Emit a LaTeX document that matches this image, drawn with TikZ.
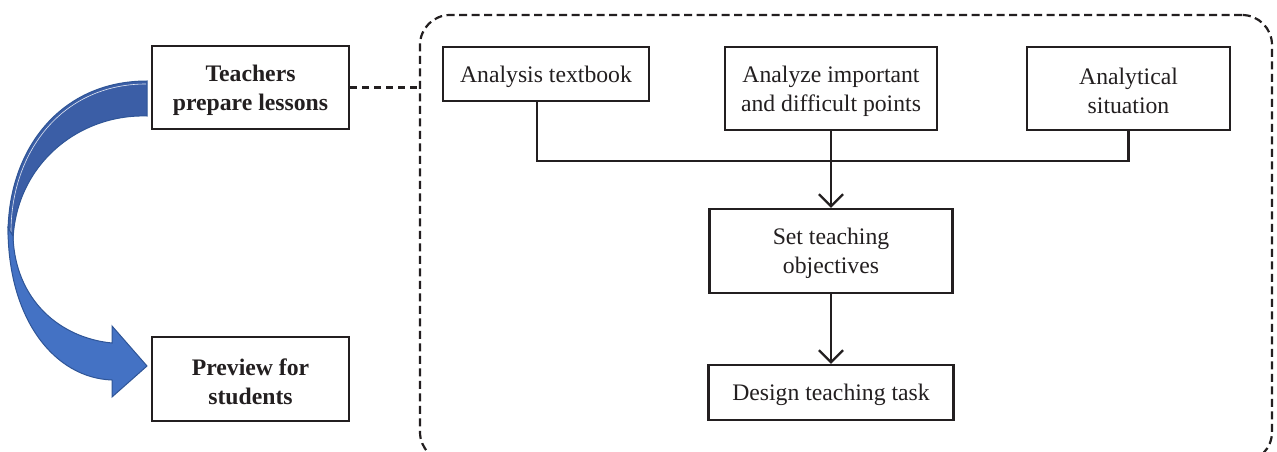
\documentclass[tikz,border=0pt]{standalone}
\usepackage{fontspec}
\setmainfont{Liberation Serif}
\usetikzlibrary{arrows.meta}
\definecolor{txt}{HTML}{231F20}
\definecolor{bandDark}{HTML}{3B5EA6}
\definecolor{bandLight}{HTML}{4472C4}
\definecolor{bandEdge}{HTML}{2F5597}
\newcommand\tup{\rule{0pt}{22pt}}
\tikzset{
  boxnode/.style={draw=txt, line width=2.3pt, align=center, inner sep=0pt, text=txt,
    font=\fontsize{23.7pt}{29pt}\selectfont},
  boldbox/.style={boxnode, font=\fontsize{23.7pt}{29pt}\selectfont\bfseries},
  flow/.style={draw=txt, line width=2.3pt},
  flowarrow/.style={flow, -{Straight Barb[length=12pt,width=24pt,line width=2.3pt]}},
  groupbox/.style={draw=txt, line width=2.2pt, dash pattern=on 8pt off 4.5pt, rounded corners=30pt, inner sep=0pt},
}
\begin{document}
\begin{tikzpicture}[x=1pt, y=-1pt]
\useasboundingbox (0,0) rectangle (1277,452);
\clip (0,0) rectangle (1277,452);
\fill[white] (0,0) rectangle (1277,452);

% dashed group
\node[groupbox, minimum width=852pt, minimum height=447pt] (group) at (846,238.5) {};

% left boxes
\node[boldbox, minimum width=197pt, minimum height=83pt] (teach) at (250.5,87.5) {\tup Teachers\\prepare lessons};
\node[boldbox, minimum width=197pt, minimum height=84pt] (preview) at (250.5,379) {\tup Preview for\\students};

% right boxes
\node[boxnode, minimum width=206pt, minimum height=54pt] (text) at (546,74) {\tup Analysis textbook};
\node[boxnode, minimum width=212pt, minimum height=83pt] (diff) at (831,88.5) {\tup Analyze important\\and difficult points};
\node[boxnode, minimum width=203pt, minimum height=83pt] (sit) at (1128.5,88.5) {\tup Analytical\\situation};
\node[boxnode, minimum width=243pt, minimum height=84pt] (obj) at (831,251) {\tup Set teaching\\objectives};
\node[boxnode, minimum width=245pt, minimum height=55pt] (task) at (831,392.5) {\tup Design teaching task};

\coordinate (join) at (831,161);
\coordinate (textdown) at (537,101);

% connectors
\draw[groupbox, rounded corners=0pt, dash pattern=on 7pt off 5pt] (teach.east) -- (teach.east -| group.west);
\draw[flow] (textdown) |- (join) -| (sit.south);
\draw[flowarrow] (diff.south) -- (obj.north);
\draw[flowarrow] (obj.south) -- (task.north);

% curved blue arrow
\fill[bandDark, draw=bandEdge, line width=1pt]
  (147,81) .. controls (60,81) and (8,150) .. (8,234)
  -- (13,240) .. controls (16,165) and (78,114) .. (147,116) -- cycle;
\draw[white!85!bandDark, line width=0.6pt] (146,84) .. controls (62,84) and (11,152) .. (11,232);
\fill[bandLight, draw=bandEdge, line width=1pt]
  (8,228) .. controls (8,320) and (55,378) .. (112,380)
  -- (112,397) -- (147,366) -- (112,326) -- (112,343)
  .. controls (60,338) and (15,300) .. (13,236) -- cycle;
\end{tikzpicture}
\end{document}
